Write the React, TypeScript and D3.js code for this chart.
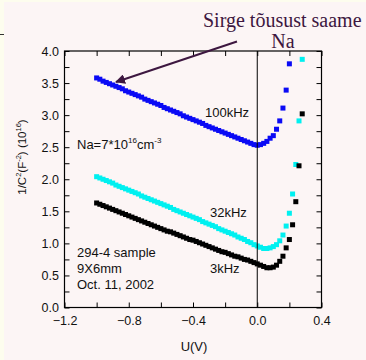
import { useRef, useEffect } from 'react';
import * as d3 from 'd3';

// bias sweep (V)
const voltage = [
  -1.0, -0.98, -0.96, -0.94, -0.92, -0.9, -0.88, -0.86, -0.84, -0.82,
  -0.8, -0.78, -0.76, -0.74, -0.72, -0.7, -0.68, -0.66, -0.64, -0.62,
  -0.6, -0.58, -0.56, -0.54, -0.52, -0.5, -0.48, -0.46, -0.44, -0.42,
  -0.4, -0.38, -0.36, -0.34, -0.32, -0.3, -0.28, -0.26, -0.24, -0.22,
  -0.2, -0.18, -0.16, -0.14, -0.12, -0.1, -0.08, -0.06, -0.04, -0.02,
  0.0, 0.02, 0.04, 0.06, 0.08, 0.1, 0.12, 0.14, 0.16, 0.18,
  0.2, 0.22, 0.24, 0.26, 0.28,
];

// 1/C^2 (1e16 F^-2)
const khz100 = [
  3.58, 3.56, 3.53, 3.51, 3.49, 3.47, 3.45, 3.43, 3.41, 3.38,
  3.36, 3.34, 3.32, 3.3, 3.28, 3.25, 3.23, 3.21, 3.19, 3.17,
  3.15, 3.12, 3.1, 3.08, 3.06, 3.04, 3.02, 2.99, 2.97, 2.95,
  2.93, 2.91, 2.89, 2.87, 2.84, 2.82, 2.8, 2.78, 2.76, 2.74,
  2.72, 2.7, 2.68, 2.66, 2.64, 2.62, 2.6, 2.58, 2.56, 2.54,
  2.53, 2.54, 2.56, 2.59, 2.64, 2.68, 2.78, 2.91, 3.11, 3.39,
  3.8,
];

const khz32 = [
  2.04, 2.02, 2.0, 1.98, 1.96, 1.94, 1.91, 1.89, 1.87, 1.85,
  1.83, 1.81, 1.79, 1.77, 1.74, 1.72, 1.7, 1.68, 1.66, 1.64,
  1.62, 1.6, 1.58, 1.56, 1.53, 1.51, 1.49, 1.47, 1.45, 1.43,
  1.41, 1.39, 1.37, 1.34, 1.32, 1.3, 1.28, 1.26, 1.23, 1.21,
  1.19, 1.17, 1.15, 1.13, 1.1, 1.08, 1.06, 1.03, 1.01, 0.98,
  0.96, 0.94, 0.92, 0.92, 0.93, 0.95, 0.98, 1.04, 1.13, 1.27,
  1.47, 1.77, 2.23, 2.91, 3.87,
];

const khz3 = [
  1.63, 1.61, 1.59, 1.57, 1.55, 1.53, 1.51, 1.49, 1.47, 1.45,
  1.43, 1.41, 1.39, 1.37, 1.35, 1.33, 1.31, 1.29, 1.27, 1.25,
  1.23, 1.21, 1.19, 1.18, 1.16, 1.14, 1.12, 1.1, 1.08, 1.06,
  1.05, 1.03, 1.01, 0.99, 0.97, 0.95, 0.93, 0.91, 0.89, 0.87,
  0.86, 0.84, 0.82, 0.8, 0.79, 0.77, 0.75, 0.74, 0.72, 0.7,
  0.68, 0.66, 0.64, 0.62, 0.62, 0.63, 0.66, 0.72, 0.8, 0.93,
  1.06, 1.29, 1.65, 2.21, 3.02,
];

const xTicks = [-1.2, -1.0, -0.8, -0.6, -0.4, -0.2, 0.0, 0.2, 0.4];
const xLabelled = [-1.2, -0.8, -0.4, 0.0, 0.4];
const yTicks = [0, 0.25, 0.5, 0.75, 1, 1.25, 1.5, 1.75, 2, 2.25, 2.5, 2.75, 3, 3.25, 3.5, 3.75, 4];
const yLabelled = [0, 0.5, 1, 1.5, 2, 2.5, 3, 3.5, 4];

const seriesList = [
  { name: '100kHz', values: khz100, color: '#0a0af5' },
  { name: '32kHz', values: khz32, color: '#00f0f0' },
  { name: '3kHz', values: khz3, color: '#000000' },
];

const W = 366;
const H = 360;

export default function App() {
  const svgRef = useRef<SVGSVGElement>(null);

  useEffect(() => {
    if (!svgRef.current) return;
    const svg = d3.select(svgRef.current);
    svg.selectAll('*').remove();

    const left = 64.5, right = 321.5, top = 51, bottom = 307.5;
    const x = d3.scaleLinear().domain([-1.2, 0.4]).range([left, right]);
    const y = d3.scaleLinear().domain([0, 4]).range([bottom, top]);
    const font = 'Liberation Sans, Arial, sans-serif';

    // slide background
    svg.append('rect').attr('width', W).attr('height', H).attr('fill', '#fdfdee');
    svg.append('rect').attr('x', 4).attr('y', 2).attr('width', W - 4).attr('height', H - 2).attr('fill', '#fcf5f5');
    svg.append('line').attr('x1', 0).attr('x2', 4).attr('y1', 34.5).attr('y2', 34.5).attr('stroke', '#333').attr('stroke-width', 1);

    // markers
    const plot = svg.append('g');
    seriesList.forEach((s) => {
      const pts = s.values.map((v, i) => ({ u: voltage[i], v })).filter((d) => d.v <= 4);
      plot.append('g')
        .attr('fill', s.color)
        .selectAll('rect')
        .data(pts)
        .join('rect')
        .attr('x', (d) => x(d.u) - 2.5)
        .attr('y', (d) => y(d.v) - 2.5)
        .attr('width', 5)
        .attr('height', 5);
    });

    // zero-bias line
    svg.append('line')
      .attr('x1', x(0)).attr('x2', x(0))
      .attr('y1', top).attr('y2', bottom)
      .attr('stroke', '#000').attr('stroke-width', 1);

    const style = (el: d3.Selection<SVGGElement, unknown, null, undefined>) => {
      el.select('.domain').remove();
      el.selectAll('.tick line').attr('stroke', '#000');
      el.selectAll('.tick text').attr('fill', '#111').attr('font-family', font).attr('font-size', '12.5px');
    };

    const fmt = (vals: number[]) => (d: d3.NumberValue) =>
      vals.some((t) => Math.abs(t - +d) < 1e-9) ? d3.format('.1f')(+d) : '';

    svg.append('g').attr('transform', `translate(0,${bottom})`)
      .call(d3.axisBottom(x).tickValues(xTicks).tickSize(-5).tickPadding(8.5).tickFormat(fmt(xLabelled)))
      .call(style);
    svg.append('g').attr('transform', `translate(0,${top})`)
      .call(d3.axisTop(x).tickValues(xTicks).tickSize(-5).tickFormat(() => ''))
      .call(style);
    svg.append('g').attr('transform', `translate(${left},0)`)
      .call(d3.axisLeft(y).tickValues(yTicks).tickSize(-5).tickPadding(5.5).tickFormat(fmt(yLabelled)))
      .call(style);
    svg.append('g').attr('transform', `translate(${right},0)`)
      .call(d3.axisRight(y).tickValues(yTicks).tickSize(-5).tickFormat(() => ''))
      .call(style);

    svg.append('rect')
      .attr('x', left).attr('y', top)
      .attr('width', right - left).attr('height', bottom - top)
      .attr('fill', 'none').attr('stroke', '#000').attr('stroke-width', 1.2);

    // axis titles
    svg.append('text')
      .attr('x', (left + right) / 2 + 1).attr('y', 351)
      .attr('text-anchor', 'middle').attr('font-family', font).attr('font-size', '13px').attr('fill', '#111')
      .text('U(V)');

    const yl = svg.append('text')
      .attr('transform', 'translate(25.5,157) rotate(-90)')
      .attr('text-anchor', 'middle').attr('font-family', font).attr('font-size', '11.5px').attr('fill', '#111');
    yl.append('tspan').text('1/C');
    yl.append('tspan').attr('font-size', '7.5px').attr('dy', -5).text('2');
    yl.append('tspan').attr('dy', 5).text('(F');
    yl.append('tspan').attr('font-size', '7.5px').attr('dy', -5).text('-2');
    yl.append('tspan').attr('dy', 5).text(') (10');
    yl.append('tspan').attr('font-size', '7.5px').attr('dy', -5).text('16');
    yl.append('tspan').attr('dy', 5).text(')');

    // curve labels and notes
    const note = (tx: number, ty: number, t: string) =>
      svg.append('text').attr('x', tx).attr('y', ty)
        .attr('font-family', font).attr('font-size', '13px').attr('fill', '#111').text(t);
    note(205, 117, '100kHz');
    note(210, 217, '32kHz');
    note(210, 273, '3kHz');
    note(77, 257, '294-4 sample');
    note(77, 273, '9X6mm');
    note(77, 289, 'Oct. 11, 2002');

    const na = svg.append('text').attr('x', 77).attr('y', 149)
      .attr('font-family', font).attr('font-size', '13px').attr('fill', '#111');
    na.append('tspan').text('Na=7*10');
    na.append('tspan').attr('font-size', '8px').attr('dy', -6).text('16');
    na.append('tspan').attr('dy', 6).text('cm');
    na.append('tspan').attr('font-size', '8px').attr('dy', -6).text('-3');

    // slide annotation
    const purple = '#3d1740';
    svg.append('text').attr('x', 203).attr('y', 27)
      .attr('font-family', 'Liberation Serif, Times New Roman, serif').attr('font-size', '20px').attr('fill', purple)
      .text('Sirge tõusust saame');
    svg.append('text').attr('x', 283).attr('y', 48).attr('text-anchor', 'middle')
      .attr('font-family', 'Liberation Serif, Times New Roman, serif').attr('font-size', '20px').attr('fill', purple)
      .text('Na');

    svg.append('defs').append('marker')
      .attr('id', 'ah').attr('viewBox', '0 0 10 10').attr('refX', 9).attr('refY', 5)
      .attr('markerWidth', 5).attr('markerHeight', 5).attr('orient', 'auto')
      .append('path').attr('d', 'M0,0 L10,5 L0,10 Z').attr('fill', purple);
    svg.append('line')
      .attr('x1', 237).attr('y1', 41.5).attr('x2', 116).attr('y2', 82)
      .attr('stroke', purple).attr('stroke-width', 2).attr('marker-end', 'url(#ah)');
  }, []);

  return (
    <svg
      ref={svgRef}
      width={W}
      height={H}
      viewBox={`0 0 ${W} ${H}`}
      style={{ position: 'absolute', left: 0, top: 0, display: 'block' }}
    />
  );
}
